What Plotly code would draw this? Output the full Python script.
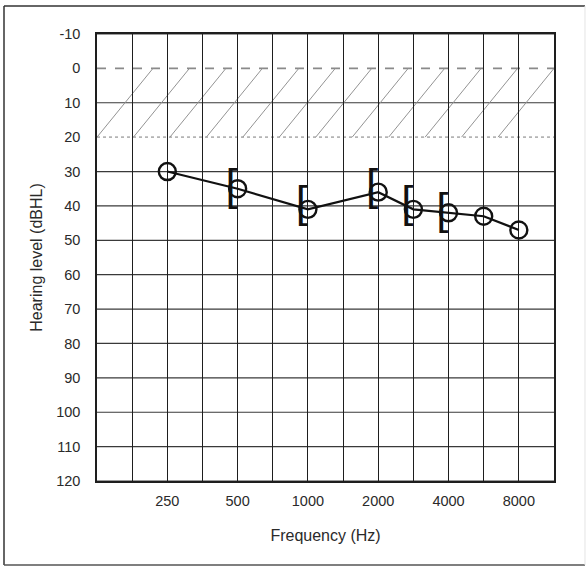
import plotly.graph_objects as go

# ---- data ----
grid_freqs = ["125", "180", "250", "355", "500", "750", "1000", "1500",
              "2000", "3000", "4000", "6000", "8000", "12000"]
x_tick_labels = ["250", "500", "1000", "2000", "4000", "8000"]
y_ticks = [-10, 0, 10, 20, 30, 40, 50, 60, 70, 80, 90, 100, 110, 120]

ac_freqs = ["250", "500", "1000", "2000", "3000", "4000", "6000", "8000"]
ac_levels = [30, 35, 41, 36, 41, 42, 43, 47]          # air conduction (O)

bc_freqs = ["500", "1000", "2000", "3000", "4000"]
bc_levels = [35, 40, 35, 40, 42]                       # masked bone conduction ([)

normal_band = [0, 20]

FONT = "Liberation Sans, Arial, sans-serif"
TXT = "#2a2a2a"

fig = go.Figure()

fig.add_trace(go.Scatter(
    x=ac_freqs, y=ac_levels, mode="lines+markers",
    line=dict(color="#111", width=2.2),
    marker=dict(symbol="circle-open", size=17, color="#111", line=dict(width=2.4)),
    showlegend=False, hoverinfo="skip"))

fig.add_trace(go.Scatter(
    x=bc_freqs, y=bc_levels, mode="text", text=["["] * len(bc_freqs),
    textposition="middle left",
    textfont=dict(family=FONT, size=44, color="#111"),
    showlegend=False, hoverinfo="skip"))

shapes = []
# horizontal grid (band edges lighter / dashed)
for lvl in y_ticks:
    if lvl == normal_band[0]:
        ln = dict(color="#8a8a8a", width=1.6, dash="dash")
        x1 = 1.004
    elif lvl == normal_band[1]:
        ln = dict(color="#b4b4b4", width=1.6, dash="dot")
        x1 = 1.0
    else:
        ln = dict(color="#3a3a3a", width=1.2)
        x1 = 1.0
    shapes.append(dict(type="line", xref="paper", yref="y", x0=0, x1=x1, y0=lvl, y1=lvl,
                       line=ln, layer="below"))

# hatching of the normal-hearing band
n_hatch = 12
d = 0.1225
s = (1 - d) / (n_hatch - 1)
for k in range(n_hatch):
    shapes.append(dict(type="line", xref="paper", yref="y",
                       x0=k * s, x1=k * s + d, y0=normal_band[1], y1=normal_band[0],
                       line=dict(color="#939393", width=1), layer="below"))

# outer frame of the scanned sheet
fx0, fx1, fy0, fy1 = -0.2035, 1.0678, -0.1879, 1.0626
shapes += [
    dict(type="line", xref="paper", yref="paper", x0=fx0, x1=fx1, y0=fy1, y1=fy1,
         line=dict(color="#333", width=1.5)),
    dict(type="line", xref="paper", yref="paper", x0=fx0, x1=fx0, y0=fy0, y1=fy1,
         line=dict(color="#333", width=1.5)),
    dict(type="line", xref="paper", yref="paper", x0=fx0, x1=fx1, y0=fy0, y1=fy0,
         line=dict(color="#555", width=1.5)),
    dict(type="line", xref="paper", yref="paper", x0=fx1, x1=fx1, y0=fy0, y1=fy1,
         line=dict(color="#e4e4e4", width=1)),
]

fig.update_layout(
    width=587, height=567,
    margin=dict(l=97, r=33, t=34, b=86),
    paper_bgcolor="white", plot_bgcolor="white",
    shapes=shapes,
    font=dict(family=FONT, color=TXT),
    xaxis=dict(
        type="category", categoryorder="array", categoryarray=grid_freqs,
        range=[0, len(grid_freqs) - 1],
        tickmode="array", tickvals=grid_freqs,
        ticktext=[f if f in x_tick_labels else "" for f in grid_freqs],
        tickfont=dict(size=14.5, color=TXT), ticks="", ticklabelstandoff=6,
        showgrid=True, gridcolor="#1e1e1e", gridwidth=1.4,
        showline=True, mirror=True, linecolor="#1e1e1e", linewidth=1.5,
        zeroline=False,
        title=dict(text="Frequency (Hz)", font=dict(size=16, color=TXT), standoff=22),
    ),
    yaxis=dict(
        range=[120, -10], tickmode="array", tickvals=y_ticks,
        ticktext=[str(v) for v in y_ticks],
        tickfont=dict(size=14.5, color=TXT), ticks="", ticklabelstandoff=12,
        showgrid=False,
        showline=True, mirror=True, linecolor="#1e1e1e", linewidth=1.5,
        zeroline=False,
        title=dict(text="Hearing level (dBHL)", font=dict(size=16, color=TXT), standoff=10),
    ),
)

fig.write_html("out.html", config={"displayModeBar": False},
               post_script="document.body.style.margin='0';")
